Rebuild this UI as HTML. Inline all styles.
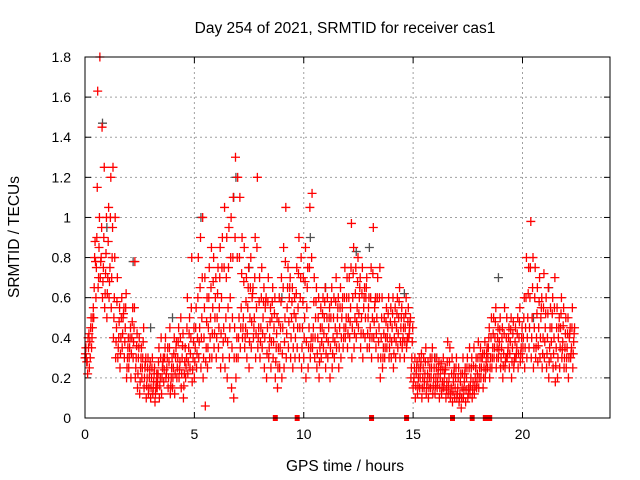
<!DOCTYPE html>
<html><head><meta charset="utf-8"><style>
body{margin:0;background:#fff;}
svg{display:block;font-family:"Liberation Sans",sans-serif;}
</style></head><body>
<svg id="c" width="640" height="480"></svg>
<script>
const binStart = 0, binStep = 0.1;
const redLow = [0.3,0.28,0.25,0.35,0.5,0.6,0.65,0.7,0.6,0.55, 0.5,0.6,0.55,0.4,0.3,0.3,0.25,0.35,0.3,0.2, 0.25,0.2,0.3,0.2,0.15,0.12,0.2,0.15,0.1,0.12, 0.1,0.12,0.08,0.15,0.1,0.12,0.18,0.2,0.15,0.12, 0.15,0.12,0.2,0.2,0.15,0.1,0.2,0.22,0.25,0.18, 0.2,0.25,0.3,0.25,0.2,0.06,0.25,0.3,0.3,0.35, 0.3,0.35,0.25,0.3,0.25,0.2,0.3,0.15,0.1,0.2, 0.3,0.35,0.4,0.35,0.3,0.25,0.35,0.4,0.3,0.35, 0.3,0.35,0.25,0.2,0.3,0.25,0.3,0.2,0.15,0.25, 0.2,0.25,0.3,0.35,0.3,0.25,0.3,0.35,0.3,0.25, 0.3,0.2,0.25,0.3,0.35,0.3,0.25,0.2,0.3,0.35, 0.25,0.3,0.2,0.25,0.3,0.35,0.25,0.3,0.35,0.4, 0.35,0.4,0.3,0.35,0.4,0.45,0.35,0.3,0.4,0.35, 0.35,0.3,0.4,0.35,0.3,0.2,0.25,0.3,0.35,0.3, 0.3,0.25,0.3,0.35,0.3,0.35,0.3,0.35,0.4,0.2, 0.15,0.1,0.12,0.15,0.1,0.15,0.12,0.1,0.15,0.12, 0.12,0.15,0.1,0.12,0.15,0.1,0.12,0.1,0.08,0.1, 0.1,0.08,0.05,0.1,0.08,0.1,0.12,0.1,0.12,0.15, 0.15,0.2,0.15,0.2,0.25,0.2,0.25,0.3,0.25,0.3, 0.25,0.2,0.25,0.3,0.25,0.2,0.25,0.3,0.25,0.28, 0.3,0.25,0.3,0.35,0.3,0.25,0.3,0.28,0.3,0.25, 0.3,0.25,0.2,0.3,0.25,0.18,0.2,0.25,0.3,0.25, 0.25,0.2,0.3,0.25];
const redLowMid = [0.32,0.22,0.38,0.4,0.65,0.75,0.7,0.78,0.68,0.62, 0.62,0.68,0.7,0.5,0.38,0.35,0.32,0.42,0.38,0.25, 0.3,0.32,0.38,0.25,0.22,0.18,0.25,0.2,0.16,0.15, 0.15,0.15,0.12,0.18,0.16,0.2,0.24,0.22,0.2,0.16, 0.2,0.22,0.25,0.24,0.22,0.16,0.25,0.28,0.32,0.24, 0.28,0.32,0.38,0.4,0.3,0.28,0.35,0.4,0.42,0.42, 0.4,0.45,0.42,0.38,0.4,0.38,0.45,0.35,0.3,0.3, 0.4,0.45,0.45,0.4,0.42,0.38,0.48,0.45,0.42,0.4, 0.38,0.42,0.4,0.32,0.35,0.38,0.38,0.28,0.25,0.35, 0.32,0.38,0.42,0.48,0.4,0.35,0.4,0.45,0.45,0.35, 0.4,0.38,0.35,0.35,0.4,0.4,0.32,0.28,0.38,0.42, 0.32,0.38,0.35,0.32,0.38,0.42,0.35,0.4,0.4,0.45, 0.42,0.48,0.45,0.42,0.48,0.52,0.42,0.42,0.5,0.42, 0.4,0.4,0.48,0.42,0.38,0.3,0.3,0.35,0.4,0.35, 0.38,0.32,0.38,0.42,0.38,0.38,0.38,0.38,0.42,0.25, 0.18,0.16,0.16,0.2,0.15,0.18,0.15,0.15,0.2,0.16, 0.16,0.18,0.15,0.15,0.18,0.14,0.16,0.12,0.13,0.15, 0.12,0.1,0.1,0.14,0.14,0.12,0.16,0.14,0.16,0.18, 0.2,0.25,0.2,0.24,0.3,0.25,0.3,0.35,0.3,0.34, 0.3,0.26,0.28,0.32,0.32,0.28,0.28,0.32,0.32,0.32, 0.35,0.35,0.4,0.45,0.4,0.35,0.35,0.36,0.4,0.32, 0.38,0.32,0.28,0.38,0.32,0.26,0.3,0.35,0.34,0.3, 0.3,0.3,0.32,0.32];
const redMid = [0.35,0.4,0.3,0.45,0.8,0.9,0.85,0.8,0.75,0.72, 0.7,0.75,0.8,0.6,0.45,0.4,0.4,0.5,0.45,0.3, 0.35,0.4,0.45,0.3,0.3,0.25,0.3,0.25,0.2,0.2, 0.2,0.18,0.15,0.22,0.2,0.25,0.3,0.25,0.28,0.2, 0.25,0.3,0.3,0.28,0.3,0.22,0.3,0.35,0.4,0.3, 0.35,0.4,0.45,0.5,0.4,0.35,0.45,0.5,0.55,0.5, 0.5,0.55,0.6,0.45,0.5,0.55,0.6,0.5,0.45,0.4, 0.5,0.55,0.5,0.45,0.55,0.5,0.6,0.5,0.55,0.45, 0.45,0.5,0.55,0.45,0.4,0.5,0.45,0.35,0.35,0.45, 0.45,0.5,0.55,0.6,0.5,0.45,0.5,0.55,0.6,0.45, 0.5,0.55,0.45,0.4,0.45,0.5,0.4,0.35,0.45,0.5, 0.4,0.45,0.5,0.4,0.45,0.5,0.45,0.5,0.45,0.5, 0.5,0.55,0.6,0.5,0.55,0.6,0.5,0.55,0.6,0.5, 0.45,0.5,0.55,0.5,0.45,0.4,0.35,0.4,0.45,0.4, 0.45,0.4,0.45,0.5,0.45,0.4,0.45,0.4,0.45,0.3, 0.2,0.22,0.2,0.25,0.2,0.22,0.18,0.2,0.25,0.2, 0.2,0.22,0.2,0.18,0.22,0.18,0.2,0.15,0.18,0.2, 0.15,0.12,0.15,0.18,0.2,0.15,0.2,0.18,0.2,0.22, 0.25,0.3,0.25,0.28,0.35,0.3,0.35,0.4,0.35,0.38, 0.35,0.32,0.3,0.35,0.38,0.35,0.3,0.35,0.4,0.35, 0.4,0.45,0.5,0.6,0.5,0.45,0.4,0.45,0.5,0.4, 0.45,0.4,0.35,0.45,0.4,0.35,0.4,0.45,0.38,0.35, 0.35,0.4,0.35,0.38];
const redMidHigh = [0.3,0.35,0.45,0.5,0.88,1.15,1.0,0.95,0.9,0.82, 0.88,1.0,0.95,0.8,0.58,0.48,0.5,0.52,0.55,0.35, 0.4,0.48,0.55,0.36,0.35,0.3,0.38,0.28,0.25,0.24, 0.25,0.22,0.18,0.28,0.3,0.28,0.35,0.3,0.35,0.25, 0.32,0.35,0.38,0.4,0.36,0.28,0.45,0.42,0.55,0.38, 0.45,0.6,0.65,0.7,0.55,0.48,0.6,0.65,0.68,0.6, 0.62,0.7,0.75,0.75,0.7,0.75,0.8,0.8,0.9,0.8, 0.8,0.72,0.68,0.58,0.65,0.65,0.62,0.7,0.85,0.58, 0.6,0.58,0.58,0.58,0.48,0.58,0.52,0.42,0.48,0.58, 0.65,0.78,0.65,0.65,0.58,0.52,0.62,0.72,0.7,0.58, 0.68,0.65,0.75,0.8,0.58,0.58,0.5,0.45,0.52,0.58, 0.5,0.5,0.58,0.5,0.58,0.55,0.55,0.55,0.6,0.6, 0.6,0.75,0.72,0.62,0.68,0.65,0.62,0.6,0.65,0.55, 0.6,0.72,0.58,0.6,0.6,0.5,0.42,0.48,0.52,0.48, 0.52,0.48,0.52,0.58,0.5,0.45,0.52,0.48,0.48,0.38, 0.25,0.25,0.25,0.28,0.25,0.28,0.22,0.25,0.3,0.25, 0.25,0.25,0.24,0.24,0.24,0.28,0.28,0.22,0.22,0.25, 0.2,0.18,0.22,0.22,0.25,0.25,0.25,0.26,0.25,0.3, 0.3,0.3,0.32,0.32,0.4,0.4,0.42,0.48,0.4,0.44, 0.4,0.42,0.4,0.4,0.44,0.42,0.38,0.42,0.48,0.4, 0.5,0.6,0.62,0.75,0.65,0.6,0.52,0.58,0.55,0.55, 0.52,0.52,0.45,0.52,0.55,0.45,0.45,0.52,0.46,0.42, 0.42,0.42,0.45,0.42];
const redHigh = [0.28,0.42,0.5,0.55,0.78,1.63,1.8,1.45,1.25,1.0, 1.05,1.2,1.25,1.0,0.7,0.55,0.6,0.55,0.62,0.4, 0.45,0.55,0.78,0.42,0.4,0.35,0.45,0.3,0.3,0.28, 0.3,0.25,0.22,0.35,0.4,0.3,0.4,0.35,0.45,0.3, 0.4,0.38,0.45,0.5,0.42,0.35,0.6,0.5,0.8,0.45, 0.55,0.8,0.9,1.0,0.7,0.6,0.75,0.85,0.8,0.7, 0.75,0.85,0.9,1.05,0.9,0.95,1.0,1.1,1.3,1.2, 1.1,0.9,0.85,0.7,0.75,0.8,0.65,0.9,1.2,0.7, 0.75,0.65,0.6,0.7,0.55,0.65,0.6,0.5,0.6,0.7, 0.85,1.05,0.75,0.7,0.65,0.6,0.75,0.9,0.8,0.7, 0.85,0.75,1.05,1.12,0.7,0.65,0.6,0.55,0.6,0.65, 0.6,0.55,0.65,0.6,0.7,0.6,0.65,0.6,0.75,0.7, 0.7,0.97,0.85,0.75,0.8,0.7,0.75,0.65,0.7,0.6, 0.75,0.95,0.6,0.7,0.75,0.6,0.5,0.55,0.6,0.55, 0.6,0.55,0.6,0.65,0.55,0.5,0.6,0.55,0.5,0.45, 0.3,0.28,0.3,0.32,0.3,0.35,0.28,0.3,0.35,0.3, 0.3,0.28,0.27,0.3,0.25,0.38,0.35,0.3,0.25,0.3, 0.25,0.22,0.3,0.25,0.3,0.35,0.3,0.35,0.3,0.38, 0.35,0.32,0.38,0.35,0.45,0.5,0.5,0.55,0.45,0.5, 0.45,0.55,0.5,0.45,0.5,0.48,0.45,0.5,0.55,0.45, 0.6,0.8,0.75,0.98,0.8,0.75,0.65,0.7,0.6,0.72, 0.6,0.65,0.55,0.6,0.7,0.55,0.5,0.6,0.55,0.5, 0.5,0.45,0.55,0.45];
const grayTimes = [0.8,1.0,2.2,3.0,4.0,5.3,6.8,6.9,7.5,9.0,10.3,11.0,12.4,13.0,14.6,16.0,18.9,20.5,21.2];
const grayValues = [1.47,0.95,0.78,0.45,0.5,1.0,1.1,1.2,0.75,0.6,0.9,0.65,0.83,0.85,0.62,0.3,0.7,0.5,0.65];
const markerTimes = [8.7,9.7,13.1,14.7,16.8,17.7,18.3,18.5];
const xTicks = [0,5,10,15,20];
const yTicks = [0,0.2,0.4,0.6,0.8,1,1.2,1.4,1.6,1.8];

const L=85,R=610,T=57,B=418,XMAX=24,YMAX=1.8;
const xs=t=>L+(t/XMAX)*(R-L);
const ys=v=>B-(v/YMAX)*(B-T);
const svg=document.getElementById('c');
const NS='http://www.w3.org/2000/svg';
function mk(tag,attrs,parent){const e=document.createElementNS(NS,tag);for(const k in attrs)e.setAttribute(k,attrs[k]);(parent||svg).appendChild(e);return e;}

const grid=mk('g',{});


xTicks.forEach(t=>{ if(t>0) mk('line',{x1:xs(t),x2:xs(t),y1:T,y2:B,stroke:'#a0a0a0','stroke-dasharray':'2,3','stroke-width':1},grid);});
yTicks.forEach(v=>{ if(v>0&&v<YMAX) mk('line',{x1:L,x2:R,y1:ys(v),y2:ys(v),stroke:'#a0a0a0','stroke-dasharray':'2,3','stroke-width':1},grid);});

const xl=mk('g',{'font-size':14,'text-anchor':'middle'});


xTicks.forEach(t=>{mk('text',{x:xs(t),y:B+21},xl).textContent=t;
 mk('line',{x1:xs(t),x2:xs(t),y1:B,y2:B-6,stroke:'#000'},svg);mk('line',{x1:xs(t),x2:xs(t),y1:T,y2:T+6,stroke:'#000'},svg);});
const yl=mk('g',{'font-size':14,'text-anchor':'end'});


yTicks.forEach(v=>{mk('text',{x:L-14,y:ys(v)+5},yl).textContent=(Math.round(v*10)/10).toString();
 mk('line',{x1:L,x2:L+6,y1:ys(v),y2:ys(v),stroke:'#000'},svg);mk('line',{x1:R,x2:R-6,y1:ys(v),y2:ys(v),stroke:'#000'},svg);});

function plus(g,x,y,col){mk('path',{d:`M${x-4.5},${y}h9M${x},${y-4.5}v9`,stroke:col,'stroke-width':1.3,fill:'none'},g);}
const gg=mk('g',{});


grayTimes.forEach((t,i)=>plus(gg,xs(t),ys(grayValues[i]),'#505050'));
const rg=mk('g',{});


[redLow,redLowMid,redMid,redMidHigh,redHigh].forEach((arr,k)=>{arr.forEach((v,i)=>{const t=binStart+i*binStep+k*0.02;plus(rg,xs(t),ys(v),'#ff0000');});});
const mg=mk('g',{});


markerTimes.forEach(t=>mk('rect',{x:xs(t)-2.5,y:B-3,width:5,height:6,fill:'#ff0000'},mg));

const frame=mk('rect',{x:L,y:T,width:R-L,height:B-T,fill:'none',stroke:'#000','stroke-width':1});


const title=mk('text',{x:345,y:33,'font-size':15.5,'text-anchor':'middle'});
title.textContent='Day 254 of 2021, SRMTID for receiver cas1';


const xt=mk('text',{x:345,y:471,'font-size':15.5,'text-anchor':'middle'});
xt.textContent='GPS time / hours';


const yt=mk('text',{x:0,y:0,'font-size':15.5,'text-anchor':'middle',transform:'translate(19,237) rotate(-90)'});
yt.textContent='SRMTID / TECUs';


</script>
</body></html>
